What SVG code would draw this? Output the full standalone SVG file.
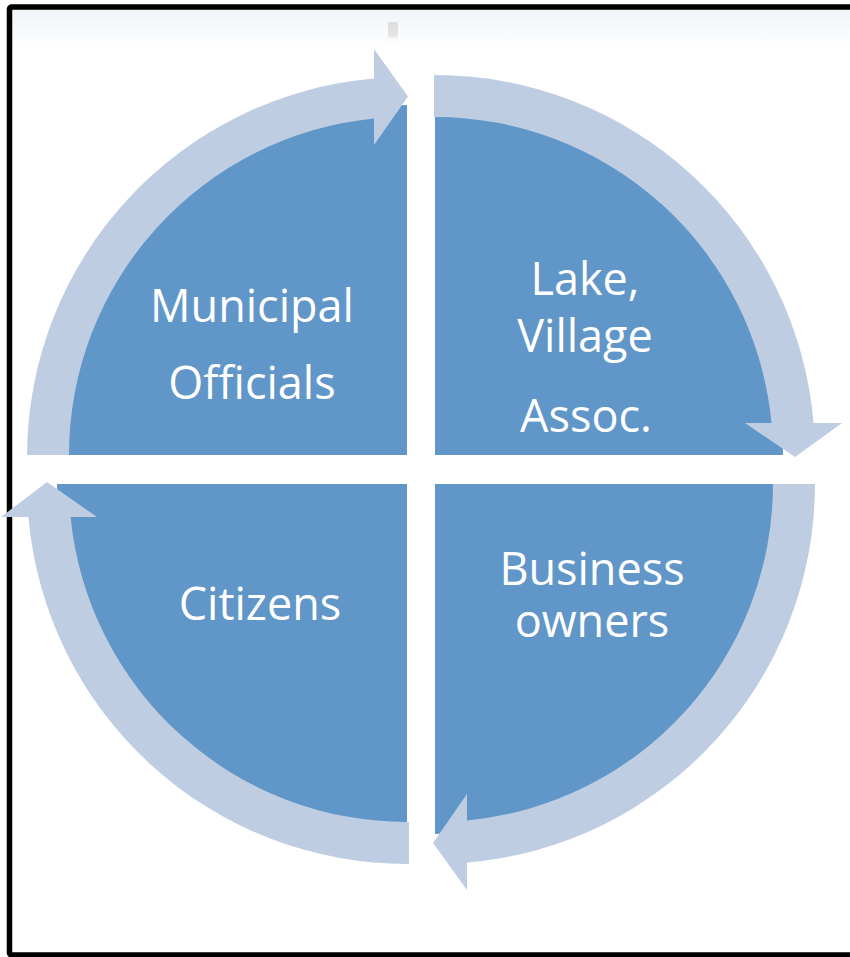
<svg xmlns="http://www.w3.org/2000/svg" width="850" height="957" viewBox="0 0 850 957">
<defs>
<linearGradient id="topfade" x1="0" y1="0" x2="0" y2="1">
<stop offset="0" stop-color="#F1F4F9"/>
<stop offset="1" stop-color="#FFFFFF"/>
</linearGradient>
<linearGradient id="mark" x1="0" y1="0" x2="0" y2="1">
<stop offset="0" stop-color="#DCDCDC"/>
<stop offset="0.7" stop-color="#E6E6E6"/>
<stop offset="1" stop-color="#FFFFFF" stop-opacity="0"/>
</linearGradient>
<style>
.quad{fill:#6096C8;}
.ring{fill:#BFCDE3;}
.lbl{font-family:"Open Sans","Liberation Sans",sans-serif;font-size:45px;fill:#FFFFFF;text-anchor:middle;}
</style>
</defs>
<rect x="0" y="0" width="850" height="957" fill="#FFFFFF"/>
<rect x="12" y="10" width="838" height="40" fill="url(#topfade)"/>
<rect x="388" y="22" width="10" height="20" rx="2" fill="url(#mark)"/>
<rect x="9.5" y="7" width="900" height="948" rx="2" fill="none" stroke="#000000" stroke-width="5.5"/>

<g id="node-municipal">
<path class="quad" d="M407,455 L57,455 A350,350 0 0 1 407,105 Z"/>
<text class="lbl" x="252" y="322">Municipal</text>
<text class="lbl" x="252" y="399">Officials</text>
</g>
<g id="node-lake">
<path class="quad" d="M435,455 L435,105 A350,350 0 0 1 783,455 Z"/>
<text class="lbl" x="585" y="295">Lake,</text>
<text class="lbl" x="585" y="352">Village</text>
<text class="lbl" x="586" y="432">Assoc.</text>
</g>
<g id="node-business">
<path class="quad" d="M435,484 L785,484 A350,350 0 0 1 435,834 Z"/>
<text class="lbl" x="592" y="585">Business</text>
<text class="lbl" x="592" y="637">owners</text>
</g>
<g id="node-citizens">
<path class="quad" d="M407,484 L407,834 A350,350 0 0 1 57,484 Z"/>
<text class="lbl" x="260" y="620">Citizens</text>
</g>

<g id="connectors">
<path class="ring" d="M69,455 L27,455 A380,380 0 0 1 374,78.4 L374,49 L408,96.5 L374,145 L374,118.6 A338,338 0 0 0 69,455 Z"/>
<path class="ring" d="M434,75 A380,380 0 0 1 813.6,423 L842,423 L795,457 L745,423 L771.5,423 A338,338 0 0 0 434,117 Z"/>
<path class="ring" d="M815,484 A380,380 0 0 1 467,862.6 L467,890 L433,843 L467,794 L467,820.5 A338,338 0 0 0 773,484 Z"/>
<path class="ring" d="M409,822 L409,864 A380,380 0 0 1 28.4,517 L1,517 L47,482 L97,517 L70.6,517 A338,338 0 0 0 409,822 Z"/>
</g>
</svg>
